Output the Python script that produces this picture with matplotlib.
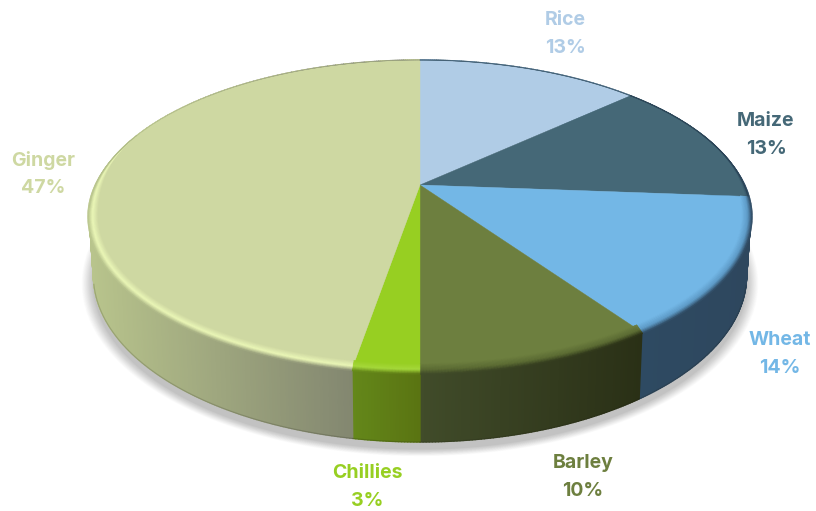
import numpy as np
import matplotlib
matplotlib.use("Agg")
import matplotlib.pyplot as plt
from matplotlib.collections import PolyCollection
from matplotlib.colors import to_rgb

categories = ["Rice", "Maize", "Wheat", "Barley", "Chillies", "Ginger"]
values = [13.2, 13.0, 14.1, 9.7, 2.7, 47.3]
top_colors = ["#B0CCE6", "#456877", "#73B7E6", "#6D7F3F", "#97CF22", "#CED8A2"]
wall_left = ["#3A5F78", "#2E4A62", "#2E4A62", "#414C2A", "#64881A", "#B8C48C"]
wall_right = ["#3A5F78", "#2E4A62", "#2E475E", "#2A3016", "#5A7412", "#838770"]
rim_colors = ["#B0CCE6", "#456877", "#5F9CC8", "#5C6C34", "#A6D93C", "#ECF8B8"]
label_xy = [(565, 20), (766, 121), (780, 340), (583, 463), (367, 473), (43, 160)]

CX, CY, K = 420.0, 185.0, 0.2
A, B = 324.0, 150.0
A2, B2, CY2 = 320.0, 160.0, 242.0
RIM_W = 6.0

def top_pt(t):
    w = 1 + K * np.cos(t)
    return CX + A * np.sin(t) / w, CY - B * np.cos(t) / w

def bot_pt(t):
    w = 1 + K * np.cos(t)
    return CX + A2 * np.sin(t) / w, CY2 - B2 * np.cos(t) / w

def rgb(c):
    return np.array(to_rgb(c))

fig = plt.figure(figsize=(8.16, 5.11), dpi=100)
ax = fig.add_axes([0, 0, 1, 1])
ax.set_xlim(0, 816)
ax.set_ylim(511, 0)
ax.axis("off")

# soft drop shadow
tt = np.linspace(0, 2 * np.pi, 360)
n_sh = 24
for i in range(n_sh):
    u = 1 - i / n_sh
    s = 1 + 0.036 * u ** 1.3
    x, y = bot_pt(tt)
    xs = CX + (x - CX) * s
    ys = CY2 + 7 + (y - CY2) * s
    ax.fill(xs, ys, color="#303030", alpha=0.012, lw=0, zorder=1)

edges = np.radians(np.concatenate([[0], np.cumsum(values)]) / np.sum(values) * 360)

for i, name in enumerate(categories):
    t0, t1 = edges[i], edges[i + 1]
    n = max(10, int((t1 - t0) * 130))
    th = np.linspace(t0, t1, n + 1)
    tx, ty = top_pt(th)
    bx, by = bot_pt(th)
    front = np.cos(th) < 0.15
    xr = tx[front] if front.any() else tx
    xmin, xmax = xr.min(), xr.max()
    frac = np.clip((tx - xmin) / max(xmax - xmin, 1), 0, 1)[:, None]
    lc, rc = rgb(wall_left[i]), rgb(wall_right[i])
    wall = lc * (1 - frac) + rc * frac

    # side wall strips
    quads = [[(tx[j], ty[j]), (tx[j + 1], ty[j + 1]), (bx[j + 1], by[j + 1]), (bx[j], by[j])]
             for j in range(n)]
    wc = wall[:-1]
    ax.add_collection(PolyCollection(quads, facecolors=wc, edgecolors=wc, linewidths=1.0, zorder=2))
    low = np.cos(th) < -0.25
    if low.any():
        ax.plot(bx[low], by[low], color="#1a1a10", alpha=0.18, lw=0.8, zorder=2.5)

    # top face
    ax.fill(np.r_[CX, tx], np.r_[CY, ty], color=top_colors[i], lw=0.3, zorder=3)

    # bevel along the front of the rim
    g = np.clip((0.35 - np.cos(th)) / 0.55, 0, 1)
    g = g * g * (3 - 2 * g)
    nx, ny = np.sin(th), -np.cos(th)
    layers = np.linspace(-1.5, 0.3, 15)
    tc, rimc = rgb(top_colors[i]), rgb(rim_colors[i])
    polys, cols = [], []
    for a, b in zip(layers[:-1], layers[1:]):
        m = (a + b) / 2
        for j in range(n):
            w0, w1 = RIM_W * g[j], RIM_W * g[j + 1]
            polys.append([(tx[j] + nx[j] * a * w0, ty[j] + ny[j] * a * w0),
                          (tx[j + 1] + nx[j + 1] * a * w1, ty[j + 1] + ny[j + 1] * a * w1),
                          (tx[j + 1] + nx[j + 1] * b * w1, ty[j + 1] + ny[j + 1] * b * w1),
                          (tx[j] + nx[j] * b * w0, ty[j] + ny[j] * b * w0)])
            if m < -0.5:
                u = (m + 1.5) / 1.0
                c = tc * (1 - u) + rimc * u
            else:
                u = (m + 0.5) / 0.8
                c = rimc * (1 - u) + wc[j] * u
            cols.append(c)
    ax.add_collection(PolyCollection(polys, facecolors=cols, edgecolors=cols, linewidths=0.3, zorder=4))

    # thin dark line on the back/right rim
    mask = np.cos(th) > -0.15
    if mask.any():
        ax.plot(tx[mask], ty[mask], color="#20303a", alpha=0.35 if i < 2 else 0.03, lw=0.8, zorder=5)

    # labels
    pct = f"{values[i]:.0f}%"
    lx, ly = label_xy[i]
    for txt, yy in ((name, ly), (pct, ly + 28)):
        ax.text(lx, yy, txt, color=top_colors[i], ha="center", va="center",
                fontsize=14, fontweight="bold", family="Inter", zorder=6)

fig.savefig("out.png", dpi=100, facecolor="white")
